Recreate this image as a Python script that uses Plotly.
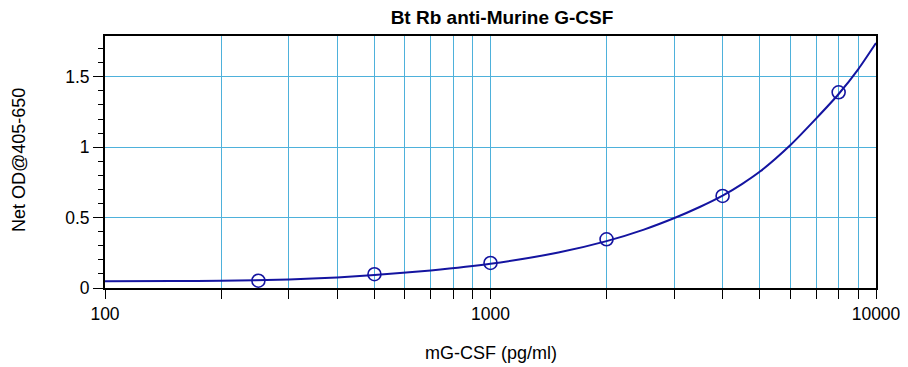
import plotly.graph_objects as go

# Standards (pg/ml) and measured net OD
conc = [250, 500, 1000, 2000, 4000, 8000]
od = [0.052, 0.098, 0.178, 0.346, 0.654, 1.39]

# Fitted curve
curve_x = [100, 150, 200, 300, 400, 500, 700, 1000, 1500, 2000, 2500, 3000, 3500,
           4000, 4500, 5000, 6000, 7000, 8000, 9000, 10000]
curve_y = [0.048, 0.049, 0.051, 0.060, 0.075, 0.092, 0.125, 0.172, 0.252, 0.333, 0.415, 0.497, 0.577,
           0.656, 0.74, 0.827, 1.016, 1.205, 1.378, 1.555, 1.74]

x_tick_vals = [100, 200, 300, 400, 500, 600, 700, 800, 900,
               1000, 2000, 3000, 4000, 5000, 6000, 7000, 8000, 9000, 10000]
x_tick_text = ["100", "", "", "", "", "", "", "", "",
               "1000", "", "", "", "", "", "", "", "", "10000"]
y_tick_vals = [0, 0.5, 1, 1.5]
y_tick_text = ["0", "0.5", "1", "1.5"]

title = "Bt Rb anti-Murine G-CSF"
x_title = "mG-CSF (pg/ml)"
y_title = "Net OD@405-650"

navy = "#1414A0"
grid = "#4EB1DB"
font = "Liberation Sans, Arial, sans-serif"

fig = go.Figure()
fig.add_trace(go.Scatter(x=curve_x, y=curve_y, mode="lines",
                         line=dict(color=navy, width=2, shape="spline", smoothing=0.6),
                         hoverinfo="skip", showlegend=False))
fig.add_trace(go.Scatter(x=conc, y=od, mode="markers",
                         marker=dict(symbol="circle-open", size=13, color=navy,
                                     line=dict(width=1.6, color=navy)),
                         showlegend=False))

# page body has an 8px margin, so the figure is 900x359 placed at (8,8)
fig.update_layout(
    width=900, height=359,
    margin=dict(l=97, r=32, t=28, b=79),
    paper_bgcolor="white", plot_bgcolor="white",
    font=dict(family=font, color="black", size=17),
    title=dict(text="<b>" + title + "</b>", x=494 / 900, xanchor="center",
               xref="container", yref="container",
               y=1 - 9.5 / 359, yanchor="middle", font=dict(size=19, family=font)),
    annotations=[
        dict(text=y_title, xref="paper", yref="paper", x=0, y=0.5,
             xanchor="center", yanchor="middle", xshift=-86, yshift=2,
             textangle=-90, showarrow=False, font=dict(size=18)),
        dict(text=x_title, xref="paper", yref="paper", x=0.5, y=0,
             xanchor="center", yanchor="middle", yshift=-65,
             showarrow=False, font=dict(size=18)),
    ],
)
fig.update_xaxes(
    type="log", range=[2, 4],
    tickmode="array", tickvals=x_tick_vals, ticktext=x_tick_text,
    ticks="outside", ticklen=9, tickwidth=1, tickcolor="black",
    showgrid=True, gridcolor=grid, gridwidth=1,
    showline=True, linecolor="black", linewidth=2, mirror=True,
    zeroline=False, automargin=False,
    tickfont=dict(size=17.5),
)
fig.update_yaxes(
    range=[0, 1.79],
    tickmode="array", tickvals=y_tick_vals, ticktext=y_tick_text,
    ticks="outside", ticklen=10, tickwidth=1, tickcolor="black",
    minor=dict(dtick=0.1, tick0=0, ticks="outside", ticklen=5, tickcolor="black", showgrid=False),
    showgrid=True, gridcolor=grid, gridwidth=1,
    showline=True, linecolor="black", linewidth=2, mirror=True,
    zeroline=False, automargin=False,
    tickfont=dict(size=17.5),
)

fig.write_html("out.html")
